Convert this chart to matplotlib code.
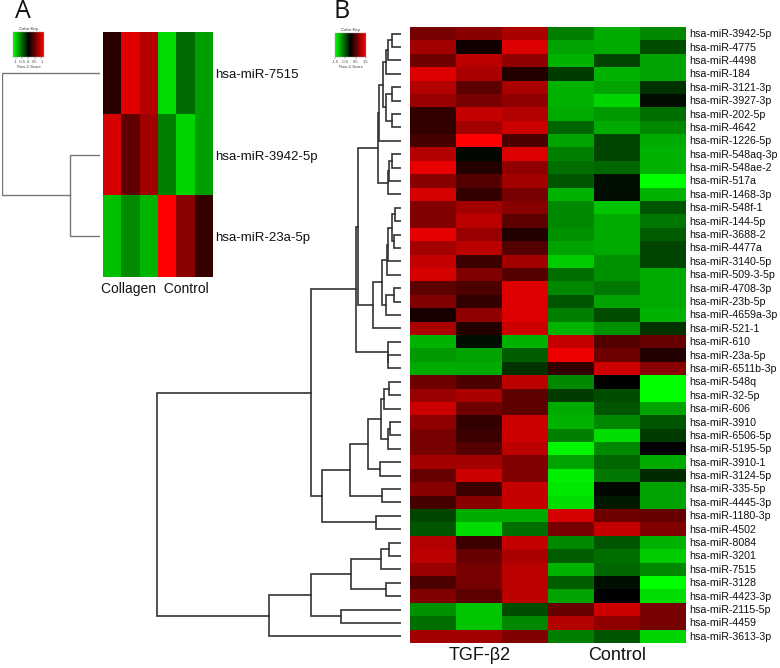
import matplotlib
matplotlib.use('Agg')
import matplotlib.pyplot as plt
import numpy as np
from matplotlib.colors import LinearSegmentedColormap, Normalize
from matplotlib.colorbar import ColorbarBase

plt.rcParams['font.family'] = ['Liberation Sans', 'DejaVu Sans']

W, H = 780, 668

# panel A
genes_a = ['hsa-miR-7515', 'hsa-miR-3942-5p', 'hsa-miR-23a-5p']
values_a = [
    [.2, 1.05, .85, -1.03, -.5, -.75],
    [1.0, .45, .75, -.6, -1.0, -.75],
    [-.9, -.65, -.85, 1.2, .65, .25],
]
# (height, left, right), leaves are row numbers
tree_a = (98, 0, (30, 1, 2))
key_ticks_a = [-1, -.5, 0, .5, 1]

# panel B
genes_b = ['hsa-miR-3942-5p', 'hsa-miR-4775', 'hsa-miR-4498', 'hsa-miR-184', 'hsa-miR-3121-3p',
           'hsa-miR-3927-3p', 'hsa-miR-202-5p', 'hsa-miR-4642', 'hsa-miR-1226-5p', 'hsa-miR-548aq-3p',
           'hsa-miR-548ae-2', 'hsa-miR-517a', 'hsa-miR-1468-3p', 'hsa-miR-548f-1', 'hsa-miR-144-5p',
           'hsa-miR-3688-2', 'hsa-miR-4477a', 'hsa-miR-3140-5p', 'hsa-miR-509-3-5p', 'hsa-miR-4708-3p',
           'hsa-miR-23b-5p', 'hsa-miR-4659a-3p', 'hsa-miR-521-1', 'hsa-miR-610', 'hsa-miR-23a-5p',
           'hsa-miR-6511b-3p', 'hsa-miR-548q', 'hsa-miR-32-5p', 'hsa-miR-606', 'hsa-miR-3910',
           'hsa-miR-6506-5p', 'hsa-miR-5195-5p', 'hsa-miR-3910-1', 'hsa-miR-3124-5p', 'hsa-miR-335-5p',
           'hsa-miR-4445-3p', 'hsa-miR-1180-3p', 'hsa-miR-4502', 'hsa-miR-8084', 'hsa-miR-3201',
           'hsa-miR-7515', 'hsa-miR-3128', 'hsa-miR-4423-3p', 'hsa-miR-2115-5p', 'hsa-miR-4459',
           'hsa-miR-3613-3p']
values_b = [
    [.7, .8, 1.0, -.75, -1.0, -.8],
    [.95, .1, 1.3, -.95, -1.0, -.45],
    [.65, 1.1, .85, -1.05, -.4, -.95],
    [1.3, 1.0, .2, -.35, -1.05, -.95],
    [1.05, .55, 1.0, -1.05, -.95, -.3],
    [.9, .7, .85, -1.05, -1.25, -.08],
    [.3, 1.15, 1.05, -1.0, -.9, -.65],
    [.3, .95, 1.2, -.6, -1.0, -.8],
    [.4, 1.5, .45, -.95, -.4, -1.0],
    [1.05, -.05, 1.3, -.75, -.4, -1.05],
    [1.35, .2, .85, -.65, -.6, -1.05],
    [.8, .5, .95, -.5, -.1, -1.5],
    [1.25, .3, .7, -1.05, -.08, -1.05],
    [.75, .95, .8, -.8, -1.15, -.5],
    [.75, 1.1, .55, -.8, -1.0, -.7],
    [1.35, .9, .2, -.85, -1.0, -.55],
    [.95, 1.1, .5, -.95, -1.0, -.4],
    [1.15, .35, .95, -1.2, -.85, -.4],
    [1.25, .75, .5, -.65, -.85, -1.0],
    [.55, .45, 1.3, -.8, -.7, -1.0],
    [.75, .3, 1.3, -.5, -.95, -1.0],
    [.15, .85, 1.3, -.75, -.45, -1.05],
    [1.0, .2, 1.2, -1.05, -.85, -.3],
    [-1.05, -.1, -1.05, 1.15, .5, .6],
    [-.9, -.95, -.55, 1.4, .65, .2],
    [-1.0, -1.0, -.3, .3, 1.2, .8],
    [.65, .45, 1.1, -.8, 0, -1.5],
    [.9, 1.0, .55, -.35, -.45, -1.5],
    [1.2, .65, .55, -1.0, -.5, -.95],
    [.85, .3, 1.2, -1.05, -.8, -.5],
    [.7, .35, 1.2, -.75, -1.3, -.35],
    [.7, .5, 1.1, -1.45, -.8, 0],
    [.95, .95, .75, -.95, -.6, -1.0],
    [.6, 1.2, .75, -1.4, -.7, -.25],
    [.8, .35, 1.15, -1.35, -.05, -.95],
    [.4, .8, 1.15, -1.3, -.15, -.95],
    [-.4, -1.0, -1.0, 1.25, .65, .6],
    [-.5, -1.3, -.65, .7, 1.15, .75],
    [1.05, .35, 1.15, -.8, -.5, -1.05],
    [1.1, .6, 1.0, -.55, -.65, -1.2],
    [.9, .7, 1.1, -1.05, -.6, -.8],
    [.45, .7, 1.1, -.55, -.1, -1.5],
    [.75, .55, 1.1, -.95, 0, -1.3],
    [-.85, -1.15, -.45, .6, 1.2, .7],
    [-.65, -1.15, -.8, 1.05, .85, .7],
    [.95, .95, .75, -.75, -.5, -1.25],
]
key_ticks_b = [-1.5, -.5, .5, 1.5]

sub_1_8 = (18, (15, (13, (9, 0, 1), 2), 3), (15, (9, 4, 5), (9, 6, 7)))
sub_10_13 = (13, (12, (9, 9, 10), 11), 12)
sub_1_13 = (23, (22.5, sub_1_8, 8), sub_10_13)
sub_14_19 = (13.7, (12.7, (9, (6, 13, 14), (7, 15, 16)), 17), 18)
sub_20_23 = (28, (19.3, (15.3, (7, 19, 20), 21), sub_14_19), 22)
sub_1_23 = (43, sub_1_13, sub_20_23)
sub_24_26 = (13.5, 23, (13, 24, 25))
upper = (45, sub_1_23, sub_24_26)
sub_27_32 = (20, (17, (12, 26, 27), 28), (13, (11, 29, 30), 31))
sub_27_36 = (51.3, (33, sub_27_32, (21, 32, 33)), (19, 34, 35))
lower = (90, upper, (79, sub_27_36, (25.3, 36, 37)))
sub_39_43 = (50, (20.3, (12, 38, 39), 40), (15.3, 41, 42))
sub_39_46 = (132, (90.3, sub_39_43, (60.3, 43, 44)), 45)
tree_b = (244.3, lower, sub_39_46)

cmap = LinearSegmentedColormap.from_list('gkr', ['#00ff00', '#000000', '#ff0000'])


def px_axes(left, top, right, bottom):
    return fig.add_axes([left / W, 1 - bottom / H, (right - left) / W, (bottom - top) / H])


def draw_tree(ax, node, color, lw):
    # returns (height, y) of the node
    if not isinstance(node, tuple):
        return 0, node
    h, a, b = node
    ha, ya = draw_tree(ax, a, color, lw)
    hb, yb = draw_tree(ax, b, color, lw)
    ax.plot([ha, h, h, hb], [ya, ya, yb, yb], color=color, lw=lw, solid_joinstyle='miter')
    return h, (ya + yb) / 2


def heat(left, top, right, bottom, values, vmax):
    ax = px_axes(left, top, right, bottom)
    ax.imshow(np.array(values), cmap=cmap, vmin=-vmax, vmax=vmax, aspect='auto', interpolation='nearest')
    ax.axis('off')
    return ax


def color_key(left, top, right, bottom, ticks, vmax):
    ax = px_axes(left, top, right, bottom)
    cb = ColorbarBase(ax, cmap=cmap, norm=Normalize(-vmax, vmax), orientation='horizontal')
    cb.set_ticks(ticks)
    cb.set_ticklabels([str(t) for t in ticks])
    ax.tick_params(labelsize=3, length=1.2, width=.3, pad=.8, colors='#444444')
    cb.outline.set_linewidth(.3)
    cb.outline.set_edgecolor('#999999')
    mid = (left + right) / 2
    fig.text(mid / W, 1 - (top - 3) / H, 'Color Key', fontsize=3.2, ha='center', va='center', color='#333333')
    fig.text(mid / W, 1 - (bottom + 10) / H, 'Row Z-Score', fontsize=3, ha='center', va='center', color='#444444')


fig = plt.figure(figsize=(W / 100, H / 100), dpi=100)

# A
heat(103, 32, 213, 277, values_a, 1.2)
for i, g in enumerate(genes_a):
    fig.text(215 / W, 1 - (75 + i * 81.7) / H, g, fontsize=9.5, va='center', color='#111111')
fig.text(155 / W, 1 - 289 / H, 'Collagen  Control', fontsize=10, ha='center', va='center', color='#111111')
ax = px_axes(2, 32, 100, 277)
draw_tree(ax, tree_a, '#777777', 1)
ax.set_xlim(98, 0)
ax.set_ylim(2.5, -.5)
ax.axis('off')
color_key(13, 32, 44, 57, key_ticks_a, 1.2)

# B
heat(410, 27, 686, 643, values_b, 1.5)
for i, g in enumerate(genes_b):
    fig.text(689 / W, 1 - (27.5 + (i + .5) * 13.39) / H, g, fontsize=7.7, va='center', color='#111111')
fig.text(480 / W, 1 - 656 / H, 'TGF-β2', fontsize=13, ha='center', va='center', color='#111111')
fig.text(617 / W, 1 - 656 / H, 'Control', fontsize=13, ha='center', va='center', color='#111111')
ax = px_axes(150, 27, 401, 643)
draw_tree(ax, tree_b, '#333333', 1.2)
ax.set_xlim(251, 0)
ax.set_ylim(45.5, -.5)
ax.axis('off')
color_key(335, 33, 366, 57, key_ticks_b, 1.5)

fig.text(23 / W, 1 - 12 / H, 'A', fontsize=18, family='Open Sans', ha='center', va='center', color='#111111')
fig.text(342 / W, 1 - 12 / H, 'B', fontsize=18, family='Open Sans', ha='center', va='center', color='#111111')

fig.savefig('out.png', dpi=100)
